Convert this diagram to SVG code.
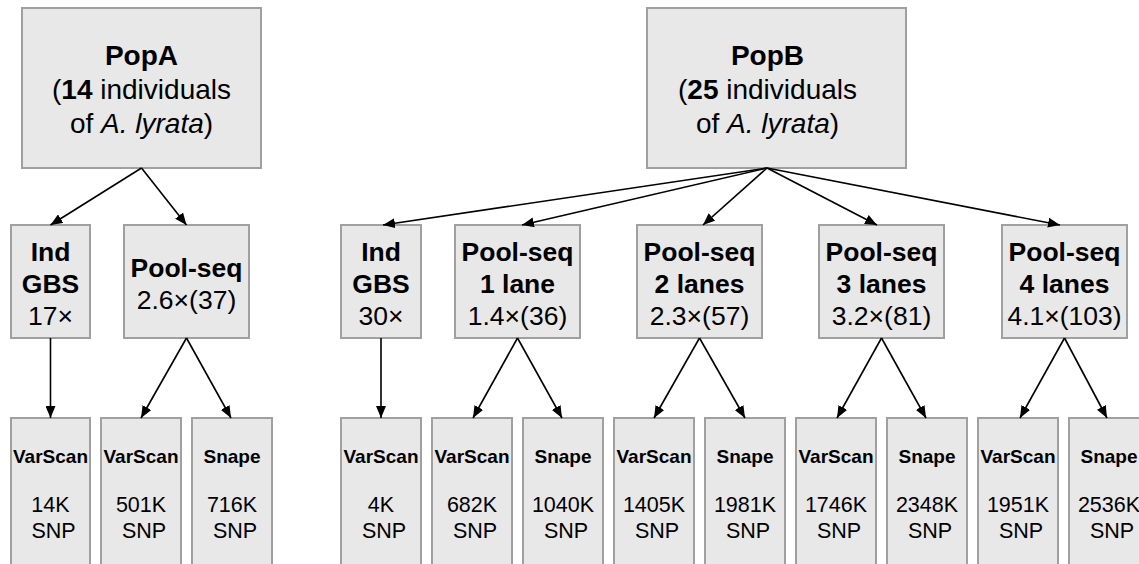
<svg xmlns="http://www.w3.org/2000/svg" width="1139" height="564" viewBox="0 0 1139 564">
<style>
rect.box{fill:#e8e8e8;stroke:#a0a0a0;stroke-width:2}
text{font-family:"Liberation Sans",Arial,sans-serif;fill:#000;text-anchor:middle}
.t1{font-size:28px}
.t2{font-size:26.5px}
.t3{font-size:21.5px}
.t3b{font-size:19px;font-weight:bold}
.b{font-weight:bold}
.i{font-style:italic}
.c line{stroke:#000;stroke-width:1.6;marker-end:url(#ah)}
</style>
<defs>
<marker id="ah" markerUnits="userSpaceOnUse" markerWidth="12" markerHeight="10" refX="12" refY="5" orient="auto">
<path d="M0,0 L12,5 L0,10 z" fill="#000"/>
</marker>
</defs>
<rect width="1139" height="564" fill="#fff"/>

<g id="popA">
<rect class="box" x="22" y="8" width="239" height="160"/>
<text class="t1 b" x="141.5" y="65">PopA</text>
<text class="t1" x="141.5" y="99">(<tspan class="b">14</tspan> individuals</text>
<text class="t1" x="141.5" y="133">of <tspan class="i">A. lyrata</tspan>)</text>
</g>
<g id="popB">
<rect class="box" x="647" y="8" width="259" height="160"/>
<text class="t1 b" x="767.5" y="65">PopB</text>
<text class="t1" x="767.5" y="99">(<tspan class="b">25</tspan> individuals</text>
<text class="t1" x="767.5" y="133">of <tspan class="i">A. lyrata</tspan>)</text>
</g>

<g id="a_ind">
<rect class="box" x="11" y="225" width="79" height="113"/>
<text class="t2 b" x="50.5" y="261">Ind</text>
<text class="t2 b" x="50.5" y="293">GBS</text>
<text class="t2" x="50.5" y="325">17×</text>
</g>
<g id="a_pool">
<rect class="box" x="124" y="225" width="125" height="113"/>
<text class="t2 b" x="186.5" y="277">Pool-seq</text>
<text class="t2" x="186.5" y="309">2.6×(37)</text>
</g>
<g id="b_ind">
<rect class="box" x="341" y="225" width="80" height="113"/>
<text class="t2 b" x="381" y="261">Ind</text>
<text class="t2 b" x="381" y="293">GBS</text>
<text class="t2" x="381" y="325">30×</text>
</g>
<g id="b_pool1">
<rect class="box" x="455" y="225" width="125" height="113"/>
<text class="t2 b" x="517.5" y="261">Pool-seq</text>
<text class="t2 b" x="517.5" y="293">1 lane</text>
<text class="t2" x="517.5" y="325">1.4×(36)</text>
</g>
<g id="b_pool2">
<rect class="box" x="637" y="225" width="125" height="113"/>
<text class="t2 b" x="699.5" y="261">Pool-seq</text>
<text class="t2 b" x="699.5" y="293">2 lanes</text>
<text class="t2" x="699.5" y="325">2.3×(57)</text>
</g>
<g id="b_pool3">
<rect class="box" x="819" y="225" width="125" height="113"/>
<text class="t2 b" x="881.5" y="261">Pool-seq</text>
<text class="t2 b" x="881.5" y="293">3 lanes</text>
<text class="t2" x="881.5" y="325">3.2×(81)</text>
</g>
<g id="b_pool4">
<rect class="box" x="1002" y="225" width="125" height="113"/>
<text class="t2 b" x="1064.5" y="261">Pool-seq</text>
<text class="t2 b" x="1064.5" y="293">4 lanes</text>
<text class="t2" x="1064.5" y="325">4.1×(103)</text>
</g>

<g id="a_ind_vs">
<rect class="box" x="11" y="418" width="79" height="160"/>
<text class="t3b" x="50.5" y="463">VarScan</text>
<text class="t3" x="50.5" y="512">14K</text>
<text class="t3" x="53.5" y="537.5">SNP</text>
</g>
<g id="a_pool_vs">
<rect class="box" x="101" y="418" width="80" height="160"/>
<text class="t3b" x="141" y="463">VarScan</text>
<text class="t3" x="141" y="512">501K</text>
<text class="t3" x="144" y="537.5">SNP</text>
</g>
<g id="a_pool_sn">
<rect class="box" x="192" y="418" width="80" height="160"/>
<text class="t3b" x="232" y="463">Snape</text>
<text class="t3" x="232" y="512">716K</text>
<text class="t3" x="235" y="537.5">SNP</text>
</g>
<g id="b_ind_vs">
<rect class="box" x="341" y="418" width="80" height="160"/>
<text class="t3b" x="381" y="463">VarScan</text>
<text class="t3" x="381" y="512">4K</text>
<text class="t3" x="384" y="537.5">SNP</text>
</g>
<g id="b_p1_vs">
<rect class="box" x="432" y="418" width="80" height="160"/>
<text class="t3b" x="472" y="463">VarScan</text>
<text class="t3" x="472" y="512">682K</text>
<text class="t3" x="475" y="537.5">SNP</text>
</g>
<g id="b_p1_sn">
<rect class="box" x="523" y="418" width="80" height="160"/>
<text class="t3b" x="563" y="463">Snape</text>
<text class="t3" x="563" y="512">1040K</text>
<text class="t3" x="566" y="537.5">SNP</text>
</g>
<g id="b_p2_vs">
<rect class="box" x="614" y="418" width="80" height="160"/>
<text class="t3b" x="654" y="463">VarScan</text>
<text class="t3" x="654" y="512">1405K</text>
<text class="t3" x="657" y="537.5">SNP</text>
</g>
<g id="b_p2_sn">
<rect class="box" x="705" y="418" width="80" height="160"/>
<text class="t3b" x="745" y="463">Snape</text>
<text class="t3" x="745" y="512">1981K</text>
<text class="t3" x="748" y="537.5">SNP</text>
</g>
<g id="b_p3_vs">
<rect class="box" x="796" y="418" width="80" height="160"/>
<text class="t3b" x="836" y="463">VarScan</text>
<text class="t3" x="836" y="512">1746K</text>
<text class="t3" x="839" y="537.5">SNP</text>
</g>
<g id="b_p3_sn">
<rect class="box" x="887" y="418" width="80" height="160"/>
<text class="t3b" x="927" y="463">Snape</text>
<text class="t3" x="927" y="512">2348K</text>
<text class="t3" x="930" y="537.5">SNP</text>
</g>
<g id="b_p4_vs">
<rect class="box" x="978" y="418" width="80" height="160"/>
<text class="t3b" x="1018" y="463">VarScan</text>
<text class="t3" x="1018" y="512">1951K</text>
<text class="t3" x="1021" y="537.5">SNP</text>
</g>
<g id="b_p4_sn">
<rect class="box" x="1069" y="418" width="80" height="160"/>
<text class="t3b" x="1109" y="463">Snape</text>
<text class="t3" x="1109" y="512">2536K</text>
<text class="t3" x="1112" y="537.5">SNP</text>
</g>

<g id="connectors" class="c">
<line x1="141.5" y1="168" x2="50.5" y2="225"/>
<line x1="141.5" y1="168" x2="186.5" y2="225"/>
<line x1="767" y1="168" x2="383" y2="225"/>
<line x1="767" y1="168" x2="522" y2="225"/>
<line x1="767" y1="168" x2="703" y2="225"/>
<line x1="767" y1="168" x2="877" y2="225"/>
<line x1="767" y1="168" x2="1060" y2="225"/>
<line x1="50.5" y1="338" x2="50.5" y2="418"/>
<line x1="186.5" y1="338" x2="141" y2="418"/>
<line x1="186.5" y1="338" x2="231" y2="418"/>
<line x1="381" y1="338" x2="381" y2="418"/>
<line x1="517.5" y1="338" x2="473" y2="418"/>
<line x1="517.5" y1="338" x2="562" y2="418"/>
<line x1="699.5" y1="338" x2="654" y2="418"/>
<line x1="699.5" y1="338" x2="745" y2="418"/>
<line x1="881.5" y1="338" x2="837" y2="418"/>
<line x1="881.5" y1="338" x2="926" y2="418"/>
<line x1="1064.5" y1="338" x2="1020" y2="418"/>
<line x1="1064.5" y1="338" x2="1107" y2="418"/>
</g>
</svg>
